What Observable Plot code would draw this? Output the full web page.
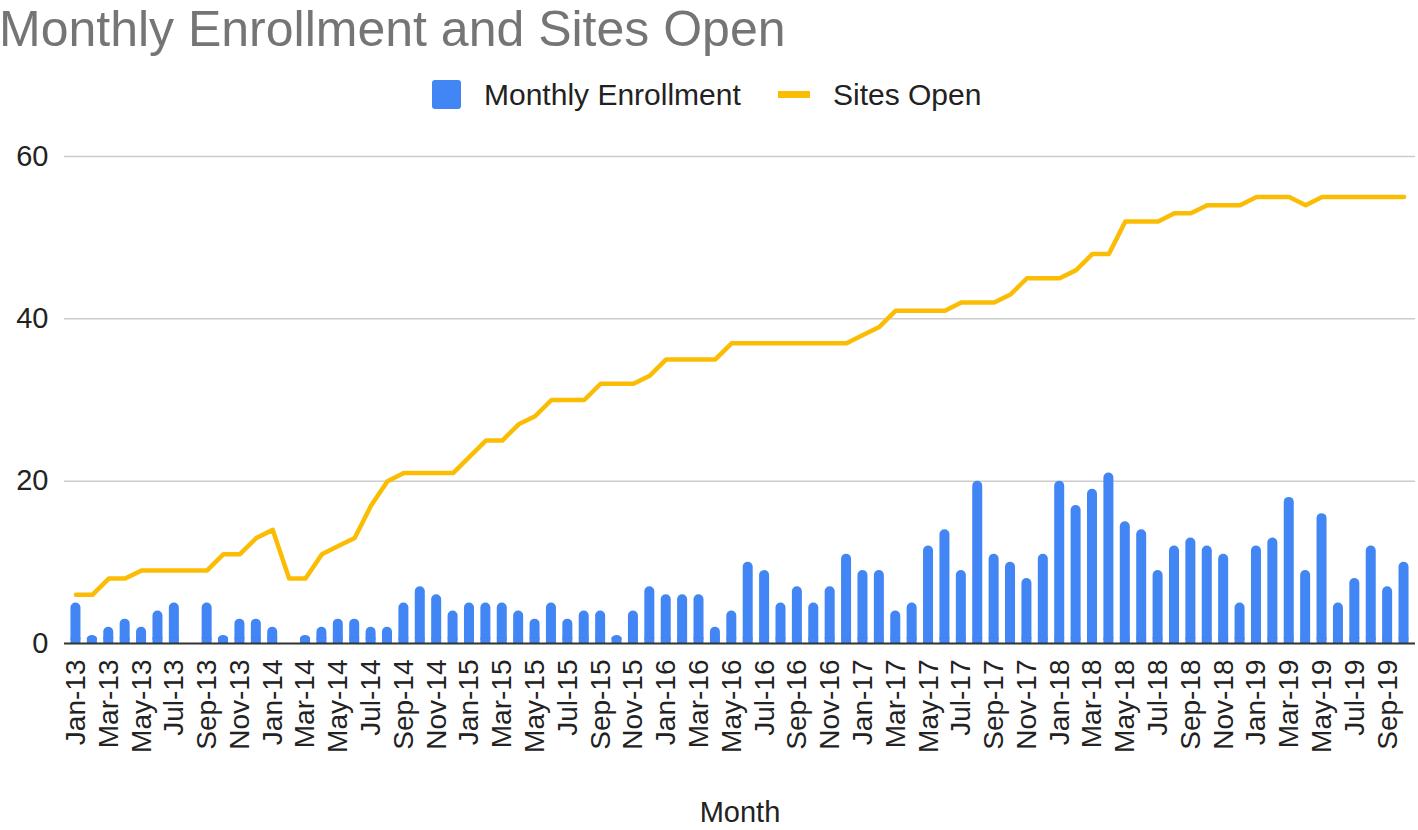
<!DOCTYPE html>
<html>
<head>
<meta charset="utf-8">
<script src="https://cdn.jsdelivr.net/npm/d3@7"></script>
<script src="https://cdn.jsdelivr.net/npm/@observablehq/plot@0.6"></script>
<style>
  html, body { margin: 0; padding: 0; background: #fff; }
  #wrap { position: relative; width: 1418px; height: 830px; overflow: hidden; background: #fff;
          font-family: "Liberation Sans", Arial, sans-serif; }
  #title { position: absolute; left: -1px; top: 7px; font-size: 50px; line-height: 44px; color: #757575; white-space: nowrap; }
  .lg { position: absolute; font-size: 30px; line-height: 30px; color: #222; white-space: nowrap; }
  #chart { position: absolute; left: 0; top: 130px; }
  #xlabel { position: absolute; left: 640px; width: 200px; top: 799px; text-align: center; font-size: 29px; line-height: 26px; color: #222; }
</style>
</head>
<body>
<div id="wrap">
  <div id="title">Monthly Enrollment and Sites Open</div>
  <div style="position:absolute;left:432px;top:80px;width:29px;height:29px;border-radius:3px;background:#4285F4"></div>
  <div class="lg" style="left:484px;top:80px">Monthly Enrollment</div>
  <div style="position:absolute;left:778px;top:91px;width:32px;height:7px;background:#FBBC04"></div>
  <div class="lg" style="left:833px;top:80px">Sites Open</div>
  <div id="chart"></div>
  <div id="xlabel">Month</div>
</div>
<script>
const months = [
  "Jan-13","Feb-13","Mar-13","Apr-13","May-13","Jun-13","Jul-13","Aug-13","Sep-13","Oct-13","Nov-13","Dec-13",
  "Jan-14","Feb-14","Mar-14","Apr-14","May-14","Jun-14","Jul-14","Aug-14","Sep-14","Oct-14","Nov-14","Dec-14",
  "Jan-15","Feb-15","Mar-15","Apr-15","May-15","Jun-15","Jul-15","Aug-15","Sep-15","Oct-15","Nov-15","Dec-15",
  "Jan-16","Feb-16","Mar-16","Apr-16","May-16","Jun-16","Jul-16","Aug-16","Sep-16","Oct-16","Nov-16","Dec-16",
  "Jan-17","Feb-17","Mar-17","Apr-17","May-17","Jun-17","Jul-17","Aug-17","Sep-17","Oct-17","Nov-17","Dec-17",
  "Jan-18","Feb-18","Mar-18","Apr-18","May-18","Jun-18","Jul-18","Aug-18","Sep-18","Oct-18","Nov-18","Dec-18",
  "Jan-19","Feb-19","Mar-19","Apr-19","May-19","Jun-19","Jul-19","Aug-19","Sep-19","Oct-19"
];

const enrollment = [
  5,1,2,3,2,4,5,0,5,1,3,3,
  2,0,1,2,3,3,2,2,5,7,6,4,
  5,5,5,4,3,5,3,4,4,1,4,7,
  6,6,6,2,4,10,9,5,7,5,7,11,
  9,9,4,5,12,14,9,20,11,10,8,11,
  20,17,19,21,15,14,9,12,13,12,11,5,
  12,13,18,9,16,5,8,12,7,10
];

const sitesOpen = [
  6,6,8,8,9,9,9,9,9,11,11,13,
  14,8,8,11,12,13,17,20,21,21,21,21,
  23,25,25,27,28,30,30,30,32,32,32,33,
  35,35,35,35,37,37,37,37,37,37,37,37,
  38,39,41,41,41,41,42,42,42,43,45,45,
  45,46,48,48,52,52,52,53,53,54,54,54,
  55,55,55,54,55,55,55,55,55,55
];

const xTickLabels = [
  "Jan-13","Mar-13","May-13","Jul-13","Sep-13","Nov-13",
  "Jan-14","Mar-14","May-14","Jul-14","Sep-14","Nov-14",
  "Jan-15","Mar-15","May-15","Jul-15","Sep-15","Nov-15",
  "Jan-16","Mar-16","May-16","Jul-16","Sep-16","Nov-16",
  "Jan-17","Mar-17","May-17","Jul-17","Sep-17","Nov-17",
  "Jan-18","Mar-18","May-18","Jul-18","Sep-18","Nov-18",
  "Jan-19","Mar-19","May-19","Jul-19","Sep-19"
];
const yTicks = [0, 20, 40, 60];
const gridTicks = [20, 40, 60];

const rows = months.map((m, i) => ({month: m, enroll: enrollment[i], sites: sitesOpen[i]}));

const BLUE = "#4285F4", YELLOW = "#FBBC04";

const chart = Plot.plot({
  width: 1418,
  height: 660,
  marginLeft: 64,
  marginRight: 3,
  marginTop: 26,
  marginBottom: 147,
  style: {fontFamily: "'Liberation Sans', Arial, sans-serif", background: "white", color: "#222", overflow: "visible"},
  x: {type: "band", domain: months, paddingInner: 0.39, paddingOuter: 0.395, label: null},
  y: {domain: [0, 60], label: null},
  marks: [
    Plot.gridY(gridTicks, {stroke: "#cccccc", strokeOpacity: 1, strokeWidth: 1.5}),
    Plot.barY(rows, {x: "month", y: "enroll", fill: BLUE, rx: 5}),
    Plot.barY(rows, {x: "month", y1: 0, y2: d => Math.min(d.enroll, 0.7), fill: BLUE}),
    Plot.ruleY([0], {stroke: "#333", strokeWidth: 2}),
    Plot.line(rows, {x: "month", y: "sites", stroke: YELLOW, strokeWidth: 4.5}),
    Plot.axisY({ticks: yTicks, tickSize: 0, tickPadding: 16, fontSize: 29, label: null}),
    Plot.axisX({ticks: xTickLabels, tickRotate: -90, tickSize: 0, tickPadding: 16, fontSize: 28, label: null})
  ]
});
document.getElementById("chart").appendChild(chart);
</script>
</body>
</html>
